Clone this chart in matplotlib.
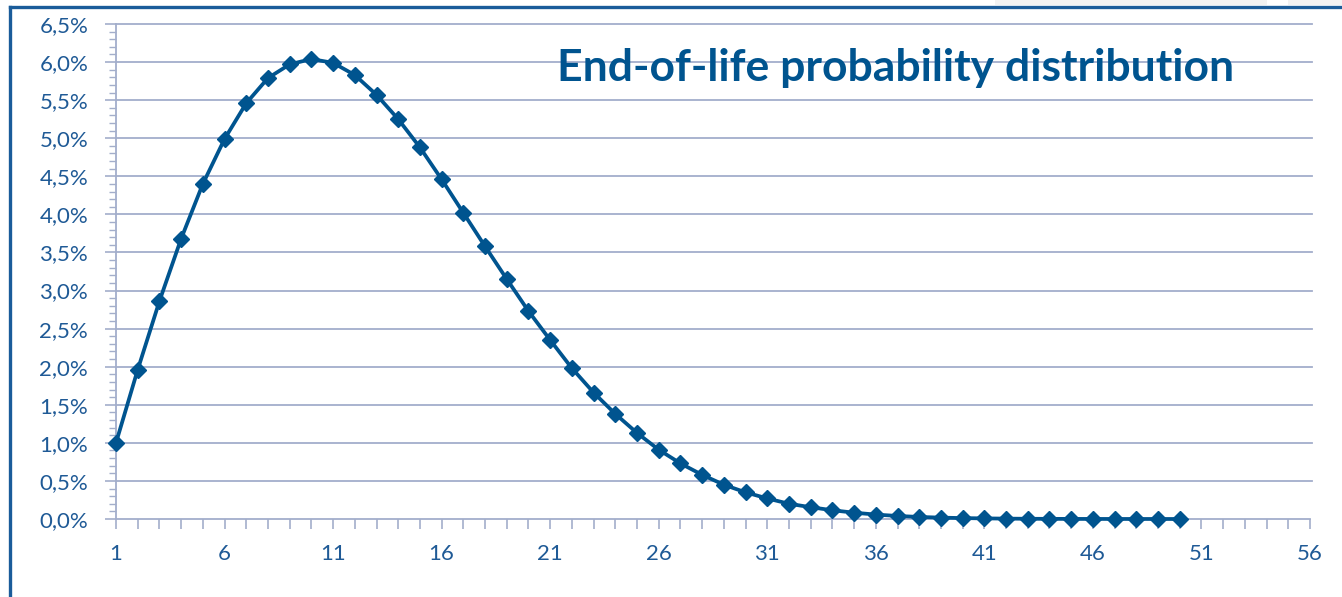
import matplotlib
matplotlib.use("Agg")
import matplotlib.pyplot as plt
from matplotlib.ticker import FixedLocator, MultipleLocator, FuncFormatter
from matplotlib.patches import Rectangle
from matplotlib.lines import Line2D

# ---- data ----
years = list(range(1, 51))
probability = [
    1.00, 1.96, 2.86, 3.68, 4.40, 4.99, 5.46, 5.79, 5.97, 6.04,
    5.99, 5.83, 5.57, 5.25, 4.88, 4.46, 4.02, 3.58, 3.15, 2.73,
    2.35, 1.98, 1.66, 1.38, 1.13, 0.91, 0.73, 0.58, 0.45, 0.35,
    0.27, 0.20, 0.155, 0.115, 0.083, 0.058, 0.040, 0.027, 0.018, 0.012,
    0.008, 0.005, 0.003, 0.002, 0.0013, 0.0008, 0.0005, 0.0003, 0.0002, 0.0001,
]
x_tick_labels = [1, 6, 11, 16, 21, 26, 31, 36, 41, 46, 51, 56]
y_tick_values = [0.0, 0.5, 1.0, 1.5, 2.0, 2.5, 3.0, 3.5, 4.0, 4.5, 5.0, 5.5, 6.0, 6.5]
title = "End-of-life probability distribution"

# ---- style ----
W, H = 1342, 597
LINE = "#00548F"
TEXT = "#1F5A96"
GRID = "#A3AECB"
FRAME = "#1A5C9A"
FONT = "Lato"

fig = plt.figure(figsize=(W / 100, H / 100), dpi=100)
fig.patch.set_facecolor("white")

# frame decorations
fig.add_artist(Rectangle((995 / W, 1 - 5 / H), (1267 - 995) / W, 5 / H,
                         transform=fig.transFigure, color="#F2F2F2", lw=0))
fig.add_artist(Rectangle((1288 / W, 1 - 5 / H), (W - 1288) / W, 5 / H,
                         transform=fig.transFigure, color="#F2F2F2", lw=0))
fig.add_artist(Line2D([9.5 / W, 1.0], [1 - 6.5 / H, 1 - 6.5 / H],
                      transform=fig.transFigure, color=FRAME, lw=2.4))
fig.add_artist(Line2D([9.5 / W, 9.5 / W], [0, 1 - 6.5 / H],
                      transform=fig.transFigure, color=FRAME, lw=2.4))

left, right = 116 / W, 1310 / W
bottom, top = (H - 519) / H, (H - 24) / H
ax = fig.add_axes([left, bottom, right - left, top - bottom])
ax.set_xlim(1, 56)
ax.set_ylim(0, 6.5)

for v in y_tick_values[1:]:
    ax.axhline(v, color=GRID, lw=1.3, zorder=1, xmin=0, xmax=1.002, clip_on=False)

ax.plot(years, probability, color=LINE, lw=2.7, marker="D", markersize=8.5,
        markerfacecolor=LINE, markeredgecolor=LINE, zorder=3, clip_on=False)

for s in ["top", "right"]:
    ax.spines[s].set_visible(False)
for s in ["left", "bottom"]:
    ax.spines[s].set_color(GRID)
    ax.spines[s].set_linewidth(1.3)

ax.xaxis.set_major_locator(FixedLocator(x_tick_labels))
ax.xaxis.set_minor_locator(MultipleLocator(1))
ax.yaxis.set_major_locator(FixedLocator(y_tick_values))
ax.yaxis.set_minor_locator(MultipleLocator(0.1))
ax.xaxis.set_major_formatter(FuncFormatter(lambda v, p: f"{int(round(v))}"))
ax.yaxis.set_major_formatter(FuncFormatter(lambda v, p: f"{v:.1f}%".replace(".", ",")))

ax.tick_params(axis="x", which="both", direction="out", length=7, width=1.2, color=GRID,
               labelsize=16, labelcolor=TEXT, pad=11)
ax.tick_params(axis="y", which="major", direction="out", length=8, width=1.2, color=GRID,
               labelsize=16, labelcolor=TEXT, pad=12)
ax.tick_params(axis="y", which="minor", direction="out", length=5, width=1.0, color=GRID)
for lab in ax.get_xticklabels() + ax.get_yticklabels():
    lab.set_fontfamily(FONT)

ax.text(557 / W, 1 - 81 / H, title, transform=fig.transFigure, fontsize=32,
        fontweight="bold", color=LINE, family=FONT, ha="left", va="baseline", zorder=5)

fig.savefig("out.png", dpi=100)
